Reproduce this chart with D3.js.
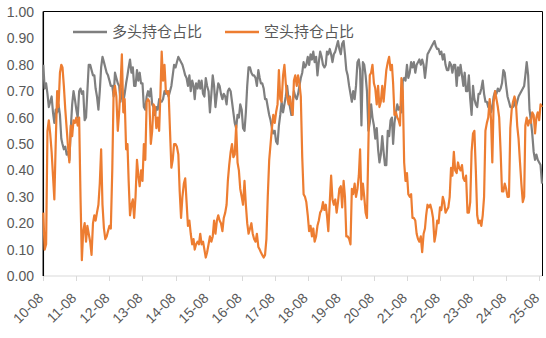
<!DOCTYPE html>
<html>
<head>
<meta charset="utf-8">
<script src="https://cdn.jsdelivr.net/npm/d3@7/dist/d3.min.js"></script>
<style>
  html, body { margin: 0; padding: 0; background: #fff; }
  svg { display: block; }
  text { font-family: "Liberation Sans", Arial, "Noto Sans CJK SC", sans-serif; fill: #595959; }
</style>
</head>
<body>
<svg id="chart" width="546" height="338"></svg>
<script>
// Series names (legend order)
const seriesNames = ["多头持仓占比", "空头持仓占比"];
const seriesColors = ["#7f7f7f", "#ed7d31"];

// Sampling: twice a month (1st and 16th) starting August 2010
const startMonth = "2010-08";

// Long position share, half-monthly
const longShare = [
  0.80, 0.71, 0.73, 0.69, 0.64, 0.66, 0.68, 0.62, 0.58, 0.63,
  0.62, 0.65, 0.61, 0.52, 0.50, 0.48, 0.49, 0.46, 0.47, 0.44,
  0.56, 0.65, 0.70, 0.67, 0.63, 0.60, 0.70, 0.71, 0.69, 0.70,
  0.59, 0.60, 0.70, 0.80, 0.80, 0.78, 0.76, 0.76, 0.71, 0.68,
  0.63, 0.70, 0.79, 0.83, 0.81, 0.79, 0.77, 0.76, 0.74, 0.72,
  0.72, 0.68, 0.77, 0.75, 0.73, 0.72, 0.66, 0.71, 0.66, 0.69,
  0.73, 0.76, 0.79, 0.82, 0.77, 0.79, 0.72, 0.72, 0.78, 0.74,
  0.77, 0.73, 0.73, 0.64, 0.63, 0.68, 0.70, 0.68, 0.71, 0.65,
  0.64, 0.61, 0.64, 0.63, 0.67, 0.66, 0.66, 0.67, 0.70, 0.69,
  0.70, 0.68, 0.70, 0.72, 0.76, 0.80, 0.79, 0.81, 0.83, 0.82,
  0.81, 0.80, 0.78, 0.76, 0.75, 0.72, 0.76, 0.70, 0.74, 0.72,
  0.67, 0.73, 0.71, 0.74, 0.71, 0.74, 0.69, 0.68, 0.75, 0.72,
  0.70, 0.62, 0.69, 0.76, 0.72, 0.64, 0.69, 0.73, 0.72, 0.69,
  0.67, 0.69, 0.68, 0.65, 0.70, 0.71, 0.70, 0.66, 0.62, 0.58,
  0.56, 0.61, 0.60, 0.65, 0.63, 0.56, 0.55, 0.62, 0.72, 0.79,
  0.79, 0.77, 0.76, 0.76, 0.75, 0.72, 0.78, 0.75, 0.73, 0.73,
  0.71, 0.67, 0.67, 0.64, 0.61, 0.59, 0.56, 0.54, 0.55, 0.51,
  0.50, 0.57, 0.61, 0.66, 0.62, 0.65, 0.68, 0.72, 0.67, 0.64,
  0.61, 0.66, 0.70, 0.68, 0.67, 0.69, 0.72, 0.75, 0.77, 0.81,
  0.79, 0.80, 0.83, 0.80, 0.84, 0.82, 0.85, 0.81, 0.83, 0.76,
  0.81, 0.85, 0.83, 0.80, 0.79, 0.80, 0.85, 0.84, 0.86, 0.84,
  0.81, 0.84, 0.85, 0.87, 0.89, 0.86, 0.84, 0.88, 0.89, 0.84,
  0.78, 0.76, 0.72, 0.69, 0.66, 0.70, 0.67, 0.72, 0.81, 0.82,
  0.78, 0.57, 0.81, 0.80, 0.76, 0.70, 0.55, 0.58, 0.65, 0.60,
  0.57, 0.52, 0.56, 0.48, 0.43, 0.46, 0.53, 0.47, 0.42, 0.42,
  0.55, 0.53, 0.59, 0.60, 0.50, 0.58, 0.62, 0.65, 0.63, 0.64,
  0.62, 0.74, 0.75, 0.74, 0.80, 0.75, 0.77, 0.81, 0.79, 0.81,
  0.77, 0.80, 0.81, 0.82, 0.80, 0.82, 0.80, 0.75, 0.79, 0.84,
  0.85, 0.86, 0.87, 0.88, 0.89, 0.87, 0.86, 0.86, 0.84, 0.85,
  0.82, 0.84, 0.80, 0.78, 0.78, 0.81, 0.80, 0.77, 0.80, 0.80,
  0.72, 0.79, 0.76, 0.80, 0.76, 0.72, 0.77, 0.70, 0.70, 0.76,
  0.67, 0.61, 0.72, 0.67, 0.65, 0.64, 0.69, 0.69, 0.71, 0.74,
  0.69, 0.66, 0.66, 0.64, 0.66, 0.62, 0.64, 0.68, 0.70, 0.69,
  0.71, 0.70, 0.71, 0.73, 0.78, 0.77, 0.72, 0.68, 0.66, 0.64,
  0.64, 0.64, 0.66, 0.64, 0.66, 0.68, 0.69, 0.70, 0.71, 0.72,
  0.76, 0.81, 0.76, 0.63, 0.59, 0.54, 0.47, 0.44, 0.46, 0.44,
  0.43, 0.42, 0.35
];

// Short position share, half-monthly
const shortShare = [
  0.24, 0.10, 0.12, 0.55, 0.59, 0.54, 0.47, 0.38, 0.29, 0.50,
  0.70, 0.64, 0.77, 0.80, 0.79, 0.72, 0.63, 0.56, 0.49, 0.43,
  0.57, 0.53, 0.59, 0.58, 0.60, 0.57, 0.60, 0.30, 0.06, 0.17,
  0.20, 0.13, 0.19, 0.16, 0.13, 0.08, 0.20, 0.23, 0.21, 0.24,
  0.27, 0.35, 0.48, 0.27, 0.18, 0.14, 0.15, 0.17, 0.19, 0.18,
  0.40, 0.70, 0.72, 0.68, 0.55, 0.62, 0.72, 0.84, 0.62, 0.67,
  0.48, 0.50, 0.36, 0.23, 0.27, 0.29, 0.22, 0.30, 0.44, 0.38,
  0.34, 0.40, 0.36, 0.50, 0.44, 0.66, 0.67, 0.66, 0.50, 0.55,
  0.65, 0.64, 0.56, 0.60, 0.55, 0.70, 0.85, 0.74, 0.80, 0.70,
  0.69, 0.70, 0.55, 0.41, 0.44, 0.50, 0.50, 0.49, 0.46, 0.32,
  0.22, 0.30, 0.35, 0.37, 0.28, 0.19, 0.21, 0.16, 0.12, 0.14,
  0.10, 0.12, 0.13, 0.12, 0.16, 0.12, 0.13, 0.10, 0.07, 0.09,
  0.12, 0.15, 0.13, 0.15, 0.21, 0.16, 0.21, 0.23, 0.21, 0.20,
  0.17, 0.22, 0.24, 0.27, 0.36, 0.42, 0.47, 0.50, 0.45, 0.46,
  0.57, 0.43, 0.40, 0.33, 0.30, 0.27, 0.36, 0.27, 0.20, 0.16,
  0.18, 0.20, 0.16, 0.14, 0.13, 0.16, 0.11, 0.10, 0.09, 0.08,
  0.07, 0.08, 0.14, 0.30, 0.44, 0.50, 0.56, 0.61, 0.58, 0.62,
  0.65, 0.78, 0.67, 0.66, 0.76, 0.80, 0.73, 0.68, 0.65, 0.68,
  0.64, 0.61, 0.74, 0.76, 0.72, 0.76, 0.73, 0.68, 0.45, 0.31,
  0.30, 0.28, 0.23, 0.17, 0.19, 0.15, 0.18, 0.13, 0.15, 0.19,
  0.21, 0.24, 0.25, 0.28, 0.25, 0.27, 0.23, 0.17, 0.28, 0.38,
  0.29, 0.27, 0.29, 0.24, 0.28, 0.33, 0.34, 0.26, 0.36, 0.30,
  0.15, 0.15, 0.14, 0.12, 0.33, 0.31, 0.35, 0.30, 0.33, 0.38,
  0.48, 0.29, 0.35, 0.30, 0.24, 0.22, 0.50, 0.76, 0.77, 0.80,
  0.73, 0.71, 0.65, 0.72, 0.64, 0.66, 0.72, 0.66, 0.72, 0.78,
  0.81, 0.83, 0.78, 0.80, 0.73, 0.61, 0.62, 0.60, 0.59, 0.57,
  0.75, 0.70, 0.43, 0.36, 0.39, 0.31, 0.30, 0.31, 0.22, 0.22,
  0.21, 0.16, 0.14, 0.13, 0.15, 0.09, 0.16, 0.18, 0.23, 0.27,
  0.26, 0.27, 0.25, 0.22, 0.13, 0.16, 0.21, 0.20, 0.26, 0.25,
  0.30, 0.28, 0.24, 0.25, 0.26, 0.30, 0.41, 0.38, 0.47, 0.40,
  0.39, 0.43, 0.41, 0.40, 0.42, 0.37, 0.36, 0.38, 0.24, 0.24,
  0.28, 0.47, 0.54, 0.55, 0.40, 0.23, 0.20, 0.21, 0.19, 0.23,
  0.30, 0.55, 0.58, 0.60, 0.67, 0.59, 0.43, 0.66, 0.70, 0.67,
  0.64, 0.60, 0.47, 0.32, 0.32, 0.35, 0.33, 0.30, 0.30, 0.56,
  0.63, 0.66, 0.68, 0.66, 0.57, 0.52, 0.43, 0.35, 0.28, 0.30,
  0.57, 0.60, 0.57, 0.59, 0.58, 0.62, 0.61, 0.54, 0.60, 0.62,
  0.59, 0.65, 0.64
];

// Axis tick labels
const xTickLabels = ["10-08","11-08","12-08","13-08","14-08","15-08","16-08","17-08",
                     "18-08","19-08","20-08","21-08","22-08","23-08","24-08","25-08"];
const yTickValues = [0, 0.1, 0.2, 0.3, 0.4, 0.5, 0.6, 0.7, 0.8, 0.9, 1.0];

// Build dates for the half-monthly samples
const start = d3.timeParse("%Y-%m")(startMonth);
const sampleDate = i => d3.timeDay.offset(d3.timeMonth.offset(start, Math.floor(i / 2)), (i % 2) ? 15 : 0);
const series = [longShare, shortShare].map((vals, s) => ({
  name: seriesNames[s],
  color: seriesColors[s],
  points: vals.map((v, i) => ({ date: sampleDate(i), value: v }))
}));

const svg = d3.select("#chart");
const plotLeft = 43.3, plotRight = 542;

const x = d3.scaleTime()
  .domain([start, series[0].points[series[0].points.length - 1].date])
  .range([plotLeft, plotRight]);
const y = d3.scaleLinear().domain([0, 1]).range([276, 12]);

// Y axis labels
svg.append("g").selectAll("text")
  .data(yTickValues)
  .join("text")
  .attr("x", 34)
  .attr("y", d => y(d))
  .attr("dy", "0.36em")
  .attr("text-anchor", "end")
  .attr("font-size", 14)
  .text(d => d3.format(".2f")(d));

// X axis: light baseline with outward ticks
const parseTick = d3.timeParse("%y-%m");
const tickDates = xTickLabels.map(parseTick);
const xAxis = svg.append("g").attr("transform", "translate(0,276)");
xAxis.append("line")
  .attr("x1", plotLeft).attr("x2", plotRight)
  .attr("y1", 0).attr("y2", 0)
  .attr("stroke", "#d9d9d9").attr("stroke-width", 1);
xAxis.selectAll("line.tick")
  .data(tickDates)
  .join("line")
  .attr("class", "tick")
  .attr("x1", d => Math.round(x(d)) + 0.5).attr("x2", d => Math.round(x(d)) + 0.5)
  .attr("y1", 0).attr("y2", 5)
  .attr("stroke", "#d9d9d9").attr("stroke-width", 1);
xAxis.selectAll("text")
  .data(tickDates)
  .join("text")
  .attr("transform", d => `translate(${x(d) + 1},${23}) rotate(-45)`)
  .attr("text-anchor", "end")
  .attr("font-size", 14)
  .text((d, i) => xTickLabels[i]);

// Plot frame: top, left and right edges
const frame = svg.append("g").attr("stroke", "#000").attr("fill", "none");
frame.append("line").attr("x1", plotLeft).attr("x2", 542.5).attr("y1", 11.5).attr("y2", 11.5).attr("stroke-width", 1);
frame.append("line").attr("x1", 542.5).attr("x2", 542.5).attr("y1", 11.5).attr("y2", 276).attr("stroke-width", 1);
frame.append("line").attr("x1", plotLeft).attr("x2", plotLeft).attr("y1", 11.5).attr("y2", 276).attr("stroke-width", 1.5);

// Series lines
const line = d3.line().x(d => x(d.date)).y(d => y(d.value));
svg.append("g").selectAll("path")
  .data(series)
  .join("path")
  .attr("d", d => line(d.points))
  .attr("fill", "none")
  .attr("stroke", d => d.color)
  .attr("stroke-width", 2.2)
  .attr("stroke-linejoin", "round");

// Legend
const legendX = [73, 225];
const legend = svg.append("g").selectAll("g")
  .data(series)
  .join("g")
  .attr("transform", (d, i) => `translate(${legendX[i]},32)`);
legend.append("line")
  .attr("x1", 0).attr("x2", 34).attr("y1", 0).attr("y2", 0)
  .attr("stroke", d => d.color).attr("stroke-width", 2.5);
legend.append("text")
  .attr("x", 39).attr("dy", "0.36em")
  .attr("font-size", 15)
  .attr("font-family", "'Noto Sans CJK SC', sans-serif")
  .text(d => d.name);
</script>
</body>
</html>
